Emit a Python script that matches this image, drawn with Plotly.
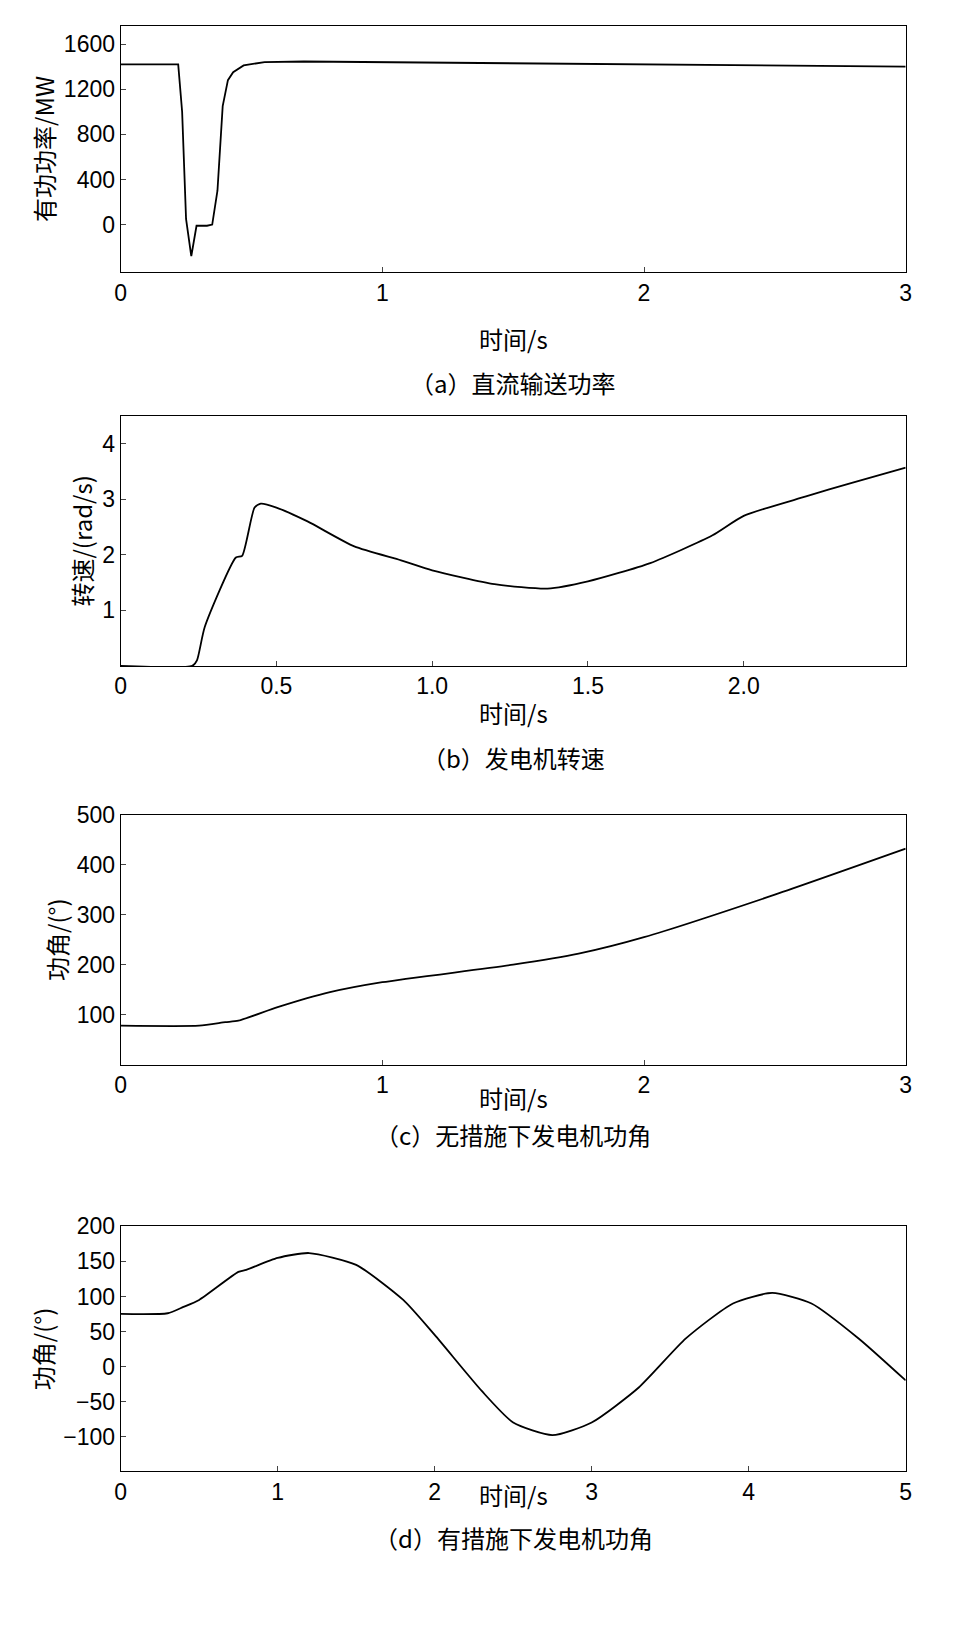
import plotly.graph_objects as go

ta=[0,0.22,0.235,0.25,0.27,0.29,0.33,0.35,0.37,0.39,0.41,0.43,0.47,0.55,0.7,1,2,3]
pa=[1420,1420,1000,50,-280,-10,-10,0,300,1050,1280,1350,1410,1440,1445,1440,1420,1400]
tb=[0,0.23,0.245,0.27,0.37,0.39,0.43,0.45,0.5,0.6,0.75,0.9,1.0,1.2,1.37,1.5,1.7,1.9,2.0,2.2,2.35,2.52]
wb=[0,0,0.1,0.7,1.95,1.98,2.85,2.92,2.85,2.6,2.15,1.9,1.72,1.47,1.39,1.52,1.85,2.35,2.7,3.05,3.3,3.57]
tc=[0,0.3,0.4,0.45,0.6,0.8,1.0,1.5,1.75,2,2.5,3]
dc=[78,78,85,88,115,145,165,200,222,255,340,432]
td=[0,0.3,0.4,0.5,0.75,0.8,1.0,1.2,1.5,1.8,2.0,2.3,2.5,2.75,3.0,3.3,3.6,3.9,4.15,4.4,4.7,5.0]
dd=[75,76,85,95,135,138,155,162,145,95,45,-35,-80,-98,-80,-30,40,90,105,90,40,-20]

H=1650
def dom(t,b): return [1-b/H,1-t/H]
fig=go.Figure()
panels=[(ta,pa,[0,3],[-420,1760],[0,1,2,3],[0,400,800,1200,1600],"有功功率/MW",dom(5,253),300,345,"（a）直流输送功率","linear"),
 (tb,wb,[0,2.52],[0,4.5],[0,0.5,1.0,1.5,2.0],[1,2,3,4],"转速/(rad/s)",dom(398,650),697,742,"（b）发电机转速","spline"),
 (tc,dc,[0,3],[0,500],[0,1,2,3],[100,200,300,400,500],"功角/(°)",dom(800,1052),1105,1142,"（c）无措施下发电机功角","spline"),
 (td,dd,[0,5],[-150,200],[0,1,2,3,4,5],[-100,-50,0,50,100,150,200],"功角/(°)",dom(1215,1462),1505,1548,"（d）有措施下发电机功角","spline")]
f=dict(family="Liberation Sans, Noto Sans CJK SC",size=23,color="black")
cf=dict(family="Noto Sans CJK SC",size=24,color="black")
for i,(x,y,xr,yr,xt,yt,yl,d,l1,l2,cap,sh) in enumerate(panels):
    s="" if i==0 else str(i+1)
    fig.add_trace(go.Scatter(x=x,y=y,mode="lines",line=dict(color="black",width=1.8,shape=sh,smoothing=0.6),xaxis="x"+s,yaxis="y"+s,showlegend=False))
    tf=".1f" if i==1 else ""
    fig.layout["xaxis"+s]=dict(domain=[0.1126,0.9416],range=xr,tickvals=xt,ticktext=[("0" if v==0 else (format(v,tf) if tf else str(v))) for v in xt],
        showgrid=False,zeroline=False,showline=True,mirror=True,linecolor="black",ticks="inside",ticklen=5,tickfont=f,anchor="y"+s)
    fig.layout["yaxis"+s]=dict(domain=d,range=yr,tickvals=yt,showgrid=False,zeroline=False,showline=True,mirror=True,linecolor="black",
        ticks="inside",ticklen=5,tickfont=f,title=dict(text=yl,font=cf,standoff=2),anchor="x"+s)
    fig.add_annotation(x=0.527,y=1-l1/H,xref="paper",yref="paper",text="时间/s",showarrow=False,font=cf)
    fig.add_annotation(x=0.527,y=1-l2/H,xref="paper",yref="paper",text=cap,showarrow=False,font=cf)
fig.update_layout(width=959,height=1650,margin=dict(l=0,r=0,t=0,b=0),plot_bgcolor="white",paper_bgcolor="white")
fig.write_html("out.html")
